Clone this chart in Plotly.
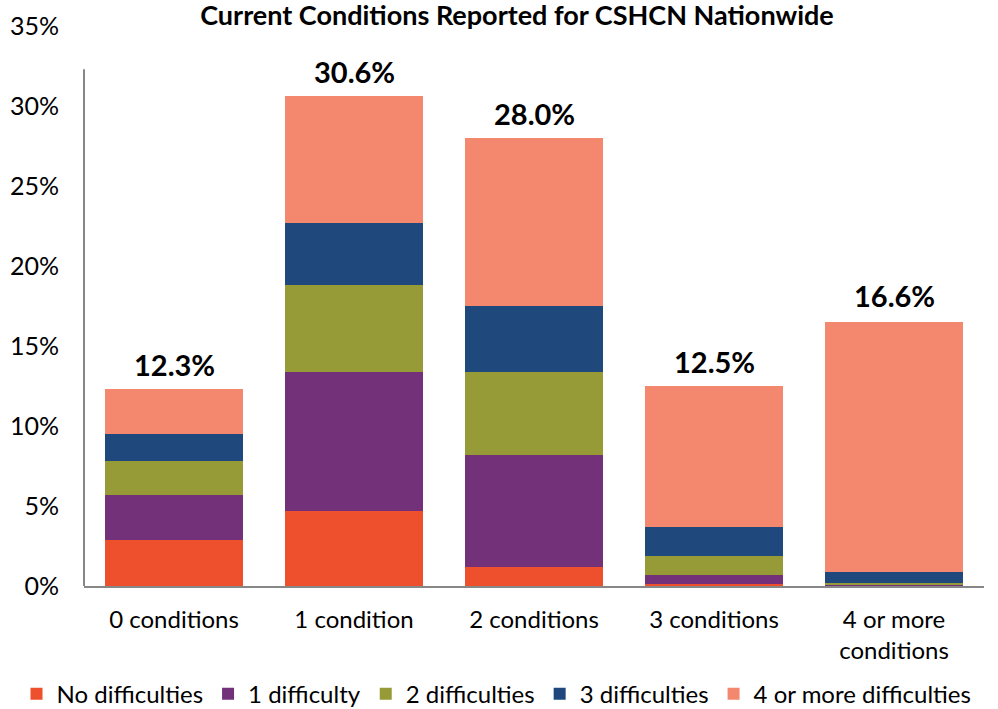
import plotly.graph_objects as go

categories = ["0 conditions", "1 condition", "2 conditions", "3 conditions", "4 or more<br>conditions"]
no_difficulties = [2.9, 4.7, 1.2, 0.1, 0.0]
one_difficulty = [2.8, 8.7, 7.0, 0.6, 0.05]
two_difficulties = [2.1, 5.4, 5.2, 1.2, 0.15]
three_difficulties = [1.7, 3.9, 4.1, 1.8, 0.7]
four_plus_difficulties = [2.8, 7.9, 10.5, 8.8, 15.6]
totals = [12.3, 30.6, 28.0, 12.5, 16.6]

series = [
    ("No difficulties", no_difficulties, "#EE502D"),
    ("1 difficulty", one_difficulty, "#73317A"),
    ("2 difficulties", two_difficulties, "#969B38"),
    ("3 difficulties", three_difficulties, "#1F497D"),
    ("4 or more difficulties", four_plus_difficulties, "#F3886E"),
]

FONT = "Lato, Calibri, Carlito, sans-serif"

fig = go.Figure()
for name, vals, color in series:
    fig.add_trace(go.Bar(
        x=categories, y=vals, name=name,
        marker=dict(color=color, line=dict(width=0)),
        hoverinfo="name+y",
    ))

for cat, tot in zip(categories, totals):
    fig.add_annotation(
        x=cat, y=tot, text=f"<b>{tot:.1f}%</b>", showarrow=False,
        yanchor="middle", yshift=25,
        font=dict(family=FONT, size=29, color="#000000"),
    )

# left axis line (drawn only over the plot area portion)
fig.add_shape(type="line", xref="paper", yref="y", x0=0, x1=0, y0=0, y1=32.3,
              line=dict(color="#878787", width=2))

fig.update_layout(
    width=998, height=709,
    barmode="stack", bargap=0.228,
    paper_bgcolor="white", plot_bgcolor="white",
    margin=dict(l=84, r=14, t=26, b=123, autoexpand=False),
    font=dict(family=FONT, size=24, color="#000000"),
    title=dict(text="<b>Current Conditions Reported for CSHCN Nationwide</b>",
               x=0.518, xanchor="center", xref="container",
               y=0.978, yanchor="middle", yref="container",
               font=dict(family=FONT, size=27, color="#000000")),
    showlegend=True,
    legend=dict(orientation="h", x=-0.075, xanchor="left", y=-0.193, yanchor="middle",
                font=dict(family=FONT, size=24, color="#000000"),
                traceorder="normal", itemwidth=30),
    xaxis=dict(showline=True, linecolor="#878787", linewidth=2, ticks="",
               showgrid=False, tickfont=dict(family=FONT, size=24),
               ticklabelstandoff=11, automargin=False),
    yaxis=dict(range=[0, 35], dtick=5, ticksuffix="%", showgrid=False,
               showline=False, zeroline=False, ticks="",
               tickfont=dict(family=FONT, size=25),
               ticklabelstandoff=24, automargin=False),
)

fig.write_html("out.html", config={"displayModeBar": False},
               post_script="document.body.style.margin='0';")
